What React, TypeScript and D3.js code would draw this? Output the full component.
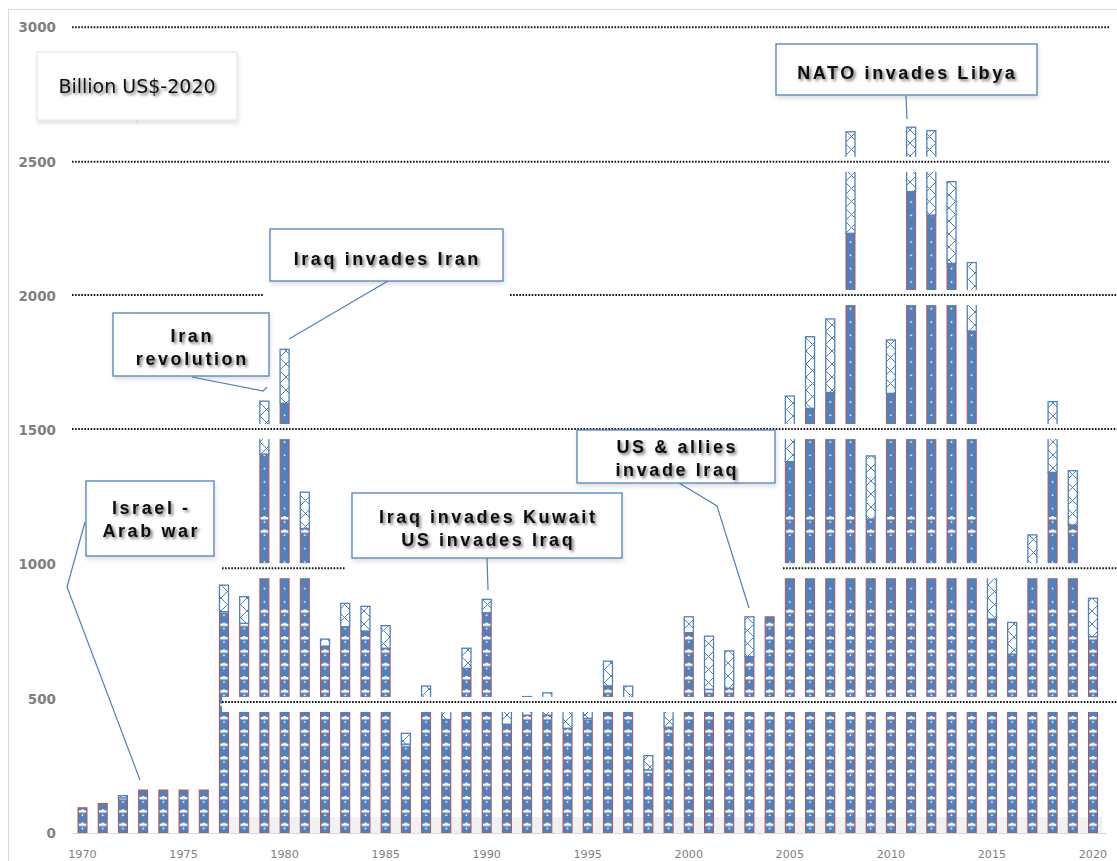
import React from "react";
import * as d3 from "d3";

// years on the category axis
const years = [
  1970, 1971, 1972, 1973, 1974, 1975, 1976, 1977, 1978, 1979,
  1980, 1981, 1982, 1983, 1984, 1985, 1986, 1987, 1988, 1989,
  1990, 1991, 1992, 1993, 1994, 1995, 1996, 1997, 1998, 1999,
  2000, 2001, 2002, 2003, 2004, 2005, 2006, 2007, 2008, 2009,
  2010, 2011, 2012, 2013, 2014, 2015, 2016, 2017, 2018, 2019,
  2020,
];

// lower (solid blue) series, billion US$-2020
const baseSpending = [
  94, 110, 131, 160, 160, 160, 160, 824, 781, 1411,
  1600, 1134, 696, 768, 752, 688, 331, 470, 423, 613,
  820, 405, 439, 439, 390, 427, 548, 480, 235, 394,
  746, 535, 539, 657, 805, 1383, 1581, 1640, 2233, 1169,
  1637, 2388, 2301, 2121, 1869, 797, 666, 975, 1343, 1147,
  731,
];

// upper (hatched) series stacked on top
const addedSpending = [
  0, 0, 8, 0, 0, 0, 0, 99, 99, 197,
  201, 135, 26, 87, 92, 84, 40, 77, 42, 75,
  50, 55, 69, 83, 80, 38, 92, 67, 53, 66,
  59, 198, 139, 148, 0, 244, 267, 274, 378, 235,
  199, 240, 314, 304, 255, 178, 118, 135, 263, 202,
  143,
];

const yTicks = [0, 500, 1000, 1500, 2000, 2500, 3000];
const xTickYears = [1970, 1975, 1980, 1985, 1990, 1995, 2000, 2005, 2010, 2015, 2020];

// hand drawn dotted divider shapes (value they sit at)
const dividerValues = [3000, 2499, 2003, 1504, 986, 488];
const dividerSpans = [
  [[72, 1110]],
  [[72, 1110]],
  [[72, 263], [510, 1117]],
  [[72, 1117]],
  [[222, 345], [783, 1117]],
  [[222, 1117]],
];

const BLUE = "#4f81bd";
const RED = "#c0504d";
const GRAY = "#7f7f7f";
const LABEL_FONT = "'Liberation Sans', Arial, sans-serif";

const callouts = [
  { box: [776, 44, 261, 51], lines: ["NATO invades Libya"], cx: 906, base: 78.5, leader: [[906, 96], [907, 119]] },
  { box: [270, 229, 233, 52], lines: ["Iraq invades Iran"], cx: 386, base: 264.5, leader: [[388, 281], [289, 339]] },
  { box: [113, 313, 156, 63], lines: ["Iran", "revolution"], cx: 191, base: 341.5, leader: [[192, 377], [263, 391], [267, 387]] },
  { box: [86, 481, 128, 75], lines: ["Israel -", "Arab war"], cx: 150, base: 514, leader: [[85, 522], [67, 587], [140, 780]] },
  { box: [352, 493, 270, 65], lines: ["Iraq invades Kuwait", "US invades Iraq"], cx: 487, base: 522.5, leader: [[487, 558], [488, 590]] },
  { box: [577, 430, 198, 53], lines: ["US & allies", "invade Iraq"], cx: 676, base: 452.5, leader: [[679, 483], [717, 506], [749, 608]] },
];

export default function App() {
  const x = d3.scalePoint<number>().domain(years).range([82.5, 1093]);
  const step = x.step();
  const y = d3
    .scaleLinear()
    .domain([0, 3000])
    .range([833, 27.3]);

  const rows = years.map((yr, i) => ({ year: yr, base: baseSpending[i], added: addedSpending[i] }));
  const series = d3.stack<any>().keys(["base", "added"])(rows);
  const barW = 9;
  const tileH = 13.33;
  const line = d3.line();

  return (
    <svg
      width={1117}
      height={861}
      style={{ position: "absolute", left: 0, top: 0, background: "#fff" }}
    >
      <defs>
        <pattern id="dotPat" patternUnits="userSpaceOnUse" x={x(1970)! - step / 2} y={716} width={step} height={tileH}>
          <rect width={step} height={tileH} fill={BLUE} />
          <circle cx={step / 2} cy={6} r={0.9} fill="#fff" />
        </pattern>
        <pattern id="stripePat" patternUnits="userSpaceOnUse" x={x(1970)! - step / 2} y={716} width={step} height={tileH}>
          <rect x={0} y={1} width={step} height={2.3} fill="#fff" />
          <rect x={step / 2 - 1.2} y={0} width={2.4} height={1.2} fill="#fff" />
        </pattern>
        <pattern id="hatchPat" patternUnits="userSpaceOnUse" x={0} y={0} width={13} height={13}>
          <rect width={13} height={13} fill="#fff" />
          <path d="M0,0 L13,13 M13,0 L0,13" stroke={BLUE} strokeWidth={1} fill="none" />
        </pattern>
        <clipPath id="stripeClip">
          <rect x={0} y={604} width={1117} height={229} />
          <rect x={0} y={516} width={1117} height={20} />
        </clipPath>
        <filter id="textShadow" x="-10%" y="-30%" width="120%" height="160%">
          <feDropShadow dx={2} dy={2} stdDeviation={1.4} floodColor="#000" floodOpacity={0.55} />
        </filter>
        <filter id="boxShadow" x="-10%" y="-20%" width="120%" height="150%">
          <feDropShadow dx={1} dy={3} stdDeviation={2} floodColor="#000" floodOpacity={0.12} />
        </filter>
        <filter id="lineShadow" x="0" y="-200%" width="100%" height="500%">
          <feGaussianBlur stdDeviation={1.2} />
        </filter>
      </defs>

      {/* chart frame */}
      <rect x={8.5} y={9.5} width={1130} height={900} fill="#fff" stroke="#d9d9d9" />

      {/* faint shadow band at the base */}
      <rect x={220} y={817} width={882} height={16} fill="#f1f1f1" />

      {/* bars */}
      {rows.map((r, i) => {
        const cx = x(r.year)!;
        const b = series[0][i];
        const a = series[1][i];
        const yb0 = y(b[0]);
        const yb1 = y(b[1]);
        return (
          <g key={r.year}>
            <rect x={cx - barW / 2} y={yb1} width={barW} height={yb0 - yb1} fill="url(#dotPat)" stroke={RED} strokeWidth={1} />
            <rect
              x={cx - barW / 2 + 0.8}
              y={yb1 + 0.5}
              width={barW - 1.6}
              height={Math.max(0, yb0 - yb1 - 1)}
              fill="url(#stripePat)"
              clipPath="url(#stripeClip)"
            />
            {r.added > 0 && (
              <rect
                x={cx - barW / 2}
                y={y(a[1])}
                width={barW}
                height={y(a[0]) - y(a[1])}
                fill="url(#hatchPat)"
                stroke={BLUE}
                strokeWidth={1.3}
              />
            )}
          </g>
        );
      })}

      {/* dotted divider shapes with white backing */}
      {dividerValues.map((v, i) => {
        const py = y(v);
        return (
          <g key={v}>
            {dividerSpans[i].map(([x0, x1]) => (
              <g key={x0}>
                <rect x={x0} y={py - 5} width={x1 - x0} height={15} fill="#fff" />
                <line x1={x0} x2={x1} y1={py + 2.5} y2={py + 2.5} stroke="#999" strokeWidth={2} opacity={0.5} filter="url(#lineShadow)" />
                <line x1={x0} x2={x1} y1={py} y2={py} stroke="#111" strokeWidth={2} strokeDasharray="1.6 1.5" />
              </g>
            ))}
          </g>
        );
      })}

      {/* category axis */}
      <line x1={72} x2={1107} y1={833.5} y2={833.5} stroke="#d9d9d9" strokeWidth={1} />
      {xTickYears.map((yr) => (
        <text key={yr} x={x(yr)!} y={857.5} textAnchor="middle" fontFamily="'DejaVu Sans', Verdana, sans-serif" fontSize={11.2} fill={GRAY}>
          {yr}
        </text>
      ))}

      {/* value axis labels */}
      {yTicks.map((t) => (
        <text key={t} x={56} y={y(t) + 5} textAnchor="end" fontFamily="'DejaVu Sans', Verdana, sans-serif" fontWeight="bold" fontSize={13.5} fill={GRAY}>
          {t}
        </text>
      ))}

      {/* unit box */}
      <rect x={37} y={52} width={200} height={68} fill="#fff" stroke="#e3e3e3" filter="url(#boxShadow)" />
      <line x1={137} x2={137} y1={120} y2={124} stroke="#ccc" />
      <text x={137} y={93} textAnchor="middle" fontFamily="'DejaVu Sans', Verdana, sans-serif" fontSize={19} fill="#111" filter="url(#textShadow)">
        Billion US$-2020
      </text>

      {/* event callouts */}
      {callouts.map((c) => (
        <g key={c.lines.join(" ")}>
          <path d={line(c.leader as [number, number][])!} fill="none" stroke={BLUE} strokeWidth={1.2} />
          <rect x={c.box[0]} y={c.box[1]} width={c.box[2]} height={c.box[3]} fill="#fff" stroke={BLUE} strokeWidth={1.3} filter="url(#boxShadow)" />
          {c.lines.map((t, k) => (
            <text
              key={t}
              x={c.cx + 1.3}
              y={c.base + k * 23}
              textAnchor="middle"
              fontFamily={LABEL_FONT}
              fontWeight="bold"
              fontSize={18}
              letterSpacing={2.6}
              fill="#111"
              filter="url(#textShadow)"
            >
              {t}
            </text>
          ))}
        </g>
      ))}
    </svg>
  );
}
